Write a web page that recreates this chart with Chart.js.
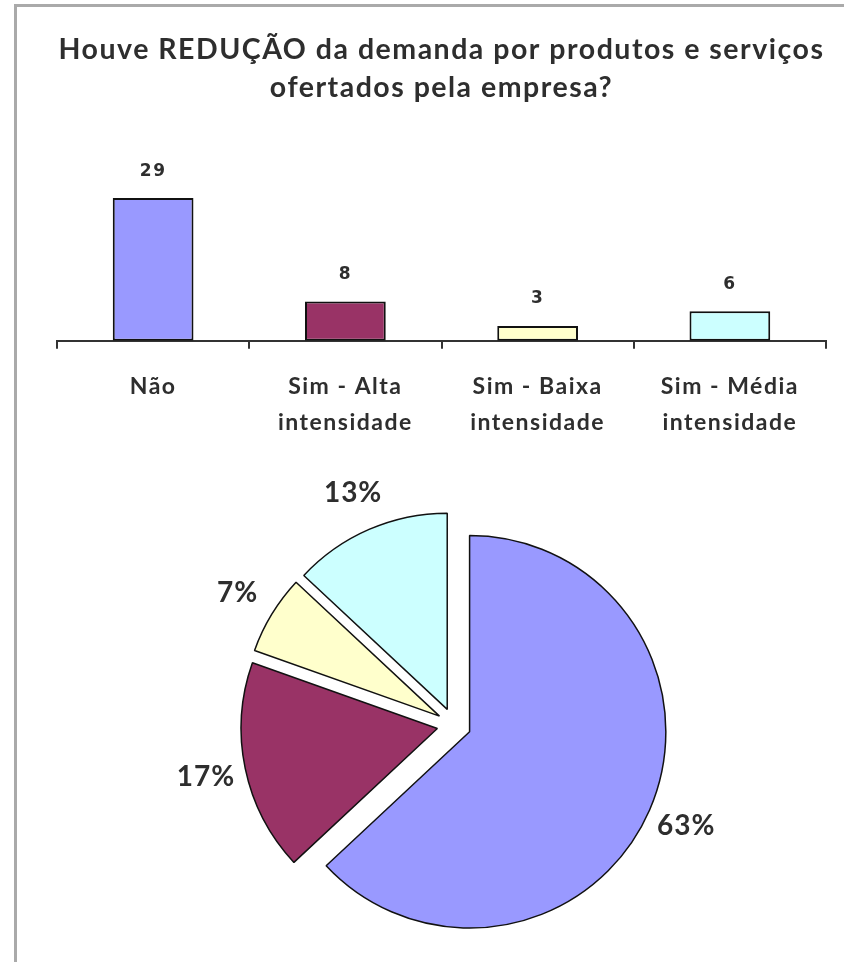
<!DOCTYPE html>
<html>
<head>
<meta charset="utf-8">
<script src="https://cdn.jsdelivr.net/npm/chart.js@4/dist/chart.umd.min.js"></script>
<style>
  html, body { margin: 0; padding: 0; background: #fff; }
  body { width: 844px; height: 962px; position: relative; overflow: hidden; }
  #frame { position: absolute; left: 14px; top: 4px; width: 840px; height: 970px;
           border-top: 3px solid #aaaaaa; border-left: 3px solid #aaaaaa; }
  #bar { position: absolute; left: 0; top: 0; }
  #pie { position: absolute; left: 0; top: 455px; }
</style>
</head>
<body>
<div id="frame"></div>
<canvas id="bar" width="844" height="467"></canvas>
<canvas id="pie" width="844" height="507"></canvas>
<script>
const titleLines = ["Houve REDUÇÃO da demanda por produtos e serviços", "ofertados pela empresa?"];
const categories = [["Não"], ["Sim - Alta", "intensidade"], ["Sim - Baixa", "intensidade"], ["Sim - Média", "intensidade"]];
const counts = [29, 8, 3, 6];
const percentLabels = ["63%", "17%", "7%", "13%"];
const colors = ["#9999FF", "#993366", "#FFFFCC", "#CCFFFF"];

const textColor = "#2e2e2e";
const mainFont = "Lato";
const explodeDistance = 17;

function spacingPlugin(px) {
  return {
    id: "letterSpacing",
    beforeDraw(chart) { chart.ctx.letterSpacing = px; }
  };
}

const barValueLabels = {
  id: "barValueLabels",
  afterDatasetsDraw(chart) {
    const ctx = chart.ctx;
    const meta = chart.getDatasetMeta(0);
    ctx.save();
    ctx.font = "bold 17px 'DejaVu Sans'";
    ctx.fillStyle = textColor;
    ctx.textAlign = "center";
    ctx.textBaseline = "middle";
    meta.data.forEach((el, i) => {
      ctx.fillText(String(counts[i]), el.x, el.y - 27);
    });
    ctx.restore();
  }
};

new Chart(document.getElementById("bar"), {
  type: "bar",
  data: {
    labels: categories,
    datasets: [{
      data: counts,
      backgroundColor: colors,
      borderColor: "#111",
      borderWidth: 2,
      borderSkipped: false,
      categoryPercentage: 1,
      barPercentage: 0.42
    }]
  },
  options: {
    responsive: false,
    animation: false,
    layout: { padding: { left: 57, right: 18, top: 0, bottom: 6 } },
    plugins: {
      legend: { display: false },
      tooltip: { enabled: false },
      title: {
        display: true,
        text: titleLines,
        color: textColor,
        font: { family: mainFont, size: 28.5, weight: "bold", lineHeight: 1.333 },
        padding: { top: 31, bottom: 37 }
      }
    },
    scales: {
      y: { display: false, min: 0, max: 40 },
      x: {
        border: { display: true, color: "#333", width: 2 },
        grid: { display: true, offset: true, drawOnChartArea: false, drawTicks: true, tickLength: 8, color: "#333", lineWidth: 2 },
        ticks: { color: textColor, padding: 20, font: { family: mainFont, size: 23, weight: "bold", lineHeight: 1.57 } }
      }
    }
  },
  plugins: [spacingPlugin("1.5px"), barValueLabels]
});

// Exploded pie: each arc drawn by the library, shifted outward along its mid-angle.
const explodedPie = {
  id: "explodedPie",
  beforeDatasetsDraw(chart) {
    const ctx = chart.ctx;
    const meta = chart.getDatasetMeta(0);
    meta.data.forEach((el) => {
      const mid = (el.startAngle + el.endAngle) / 2;
      ctx.save();
      ctx.translate(Math.cos(mid) * explodeDistance, Math.sin(mid) * explodeDistance);
      el.draw(ctx, chart.chartArea);
      ctx.restore();
    });
    ctx.save();
    ctx.font = "bold 28px " + mainFont;
    ctx.fillStyle = textColor;
    ctx.textAlign = "center";
    ctx.textBaseline = "middle";
    meta.data.forEach((el, i) => {
      const mid = (el.startAngle + el.endAngle) / 2;
      const d = el.outerRadius + explodeDistance + 40;
      ctx.fillText(percentLabels[i], el.x + Math.cos(mid) * d, el.y + Math.sin(mid) * d);
    });
    ctx.restore();
    return false;
  }
};

new Chart(document.getElementById("pie"), {
  type: "pie",
  data: {
    labels: categories.map(c => c.join(" ")),
    datasets: [{
      data: counts,
      backgroundColor: colors,
      borderColor: "#111",
      borderWidth: 1.5,
      offset: 0
    }]
  },
  options: {
    responsive: false,
    animation: false,
    layout: { padding: { left: 257, right: 193, top: 73, bottom: 40 } },
    plugins: {
      legend: { display: false },
      tooltip: { enabled: false }
    }
  },
  plugins: [spacingPlugin("1px"), explodedPie]
});
</script>
</body>
</html>
